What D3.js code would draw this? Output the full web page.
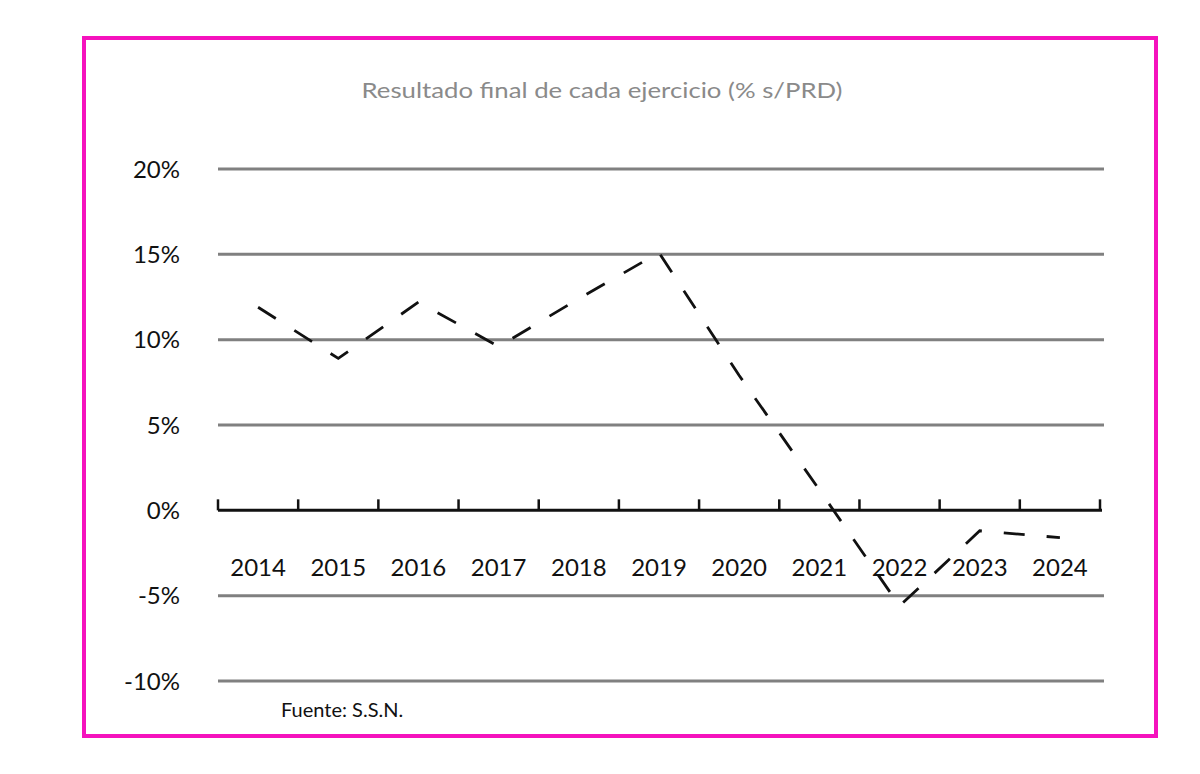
<!DOCTYPE html>
<html>
<head>
<meta charset="utf-8">
<script src="https://cdn.jsdelivr.net/npm/d3@7"></script>
<style>
  html, body { margin: 0; padding: 0; background: #fff; }
  svg { display: block; }
  text { font-family: Lato, "Open Sans", sans-serif; }
</style>
</head>
<body>
<svg id="chart" width="1200" height="774"></svg>
<script>
const title = "Resultado final de cada ejercicio (% s/PRD)";
const source = "Fuente: S.S.N.";
const years = ["2014","2015","2016","2017","2018","2019","2020","2021","2022","2023","2024"];
const values = [11.9, 8.9, 12.2, 9.6, 12.4, 15.1, 7.9, 1.2, -5.6, -1.2, -1.6];
const yTicks = [-10, -5, 0, 5, 10, 15, 20];

const svg = d3.select("#chart");

// frame
svg.append("rect")
  .attr("x", 84).attr("y", 38).attr("width", 1072).attr("height", 698)
  .attr("fill", "none").attr("stroke", "#f512bd").attr("stroke-width", 4);

// title
svg.append("text")
  .attr("x", 602).attr("y", 98)
  .attr("text-anchor", "middle")
  .attr("font-family", "'Open Sans', sans-serif")
  .attr("font-size", 22)
  .attr("fill", "#8a8a8a")
  .attr("textLength", 481)
  .attr("lengthAdjust", "spacingAndGlyphs")
  .text(title);

const x = d3.scaleBand().domain(years).range([218, 1100]).paddingInner(0).paddingOuter(0);
const y = d3.scaleLinear().domain([-10, 20]).range([681, 169]);

// gridlines
svg.append("g").selectAll("line")
  .data(yTicks.filter(d => d !== 0))
  .join("line")
  .attr("x1", 218).attr("x2", 1104)
  .attr("y1", d => y(d)).attr("y2", d => y(d))
  .attr("stroke", "#808080").attr("stroke-width", 3);

// y labels
svg.append("g").selectAll("text")
  .data(yTicks)
  .join("text")
  .attr("x", 180)
  .attr("y", d => y(d))
  .attr("dy", "0.36em")
  .attr("text-anchor", "end")
  .attr("font-size", 24)
  .attr("fill", "#111")
  .text(d => d + "%");

// zero axis with upward ticks
const zeroY = y(0);
svg.append("line")
  .attr("x1", 218).attr("x2", 1102)
  .attr("y1", zeroY).attr("y2", zeroY)
  .attr("stroke", "#111").attr("stroke-width", 3);

const tickPos = years.map(d => x(d)).concat([x(years[years.length - 1]) + x.bandwidth()]);
svg.append("g").selectAll("line")
  .data(tickPos)
  .join("line")
  .attr("x1", d => d).attr("x2", d => d)
  .attr("y1", zeroY - 11).attr("y2", zeroY)
  .attr("stroke", "#111").attr("stroke-width", 2.5);

// x labels
svg.append("g").selectAll("text")
  .data(years)
  .join("text")
  .attr("x", d => x(d) + x.bandwidth() / 2)
  .attr("y", 576)
  .attr("text-anchor", "middle")
  .attr("font-size", 24)
  .attr("fill", "#111")
  .text(d => d);

// line
const line = d3.line()
  .x((d, i) => x(years[i]) + x.bandwidth() / 2)
  .y(d => y(d));

svg.append("path")
  .datum(values)
  .attr("d", line)
  .attr("fill", "none")
  .attr("stroke", "#111")
  .attr("stroke-width", 2.8)
  .attr("stroke-dasharray", "21,22");

// source
svg.append("text")
  .attr("x", 281).attr("y", 717)
  .attr("font-size", 20)
  .attr("fill", "#111")
  .text(source);
</script>
</body>
</html>
